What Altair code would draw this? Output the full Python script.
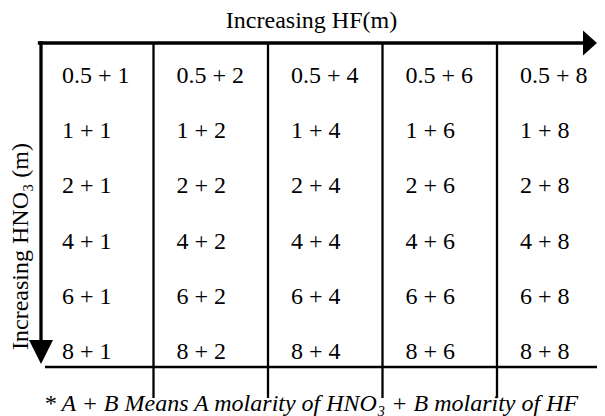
import altair as alt
import pandas as pd

# ---- values ----
hno3 = ["0.5", "1", "2", "4", "6", "8"]      # rows (HNO3 molarity)
hf = ["1", "2", "4", "6", "8"]               # columns (HF molarity)
header = "Increasing HF(m)"
side_label = "Increasing HNO\u2083 (m)"
footnote = "* A + B Means A molarity of HNO\u2083 + B molarity of HF"

FONT = "Liberation Serif"

cells = pd.DataFrame(
    [{"hno3": a, "hf": b, "label": f"{a} + {b}"} for a in hno3 for b in hf]
)
dividers = pd.DataFrame({"hf": hf[1:]})
ends = pd.DataFrame(
    {"first_hf": [hf[0]], "last_hf": [hf[-1]], "first_row": [hno3[0]], "last_row": [hno3[-1]]}
)

W, H = 589, 408
xscale = alt.Scale(type="band", domain=hf, range=[31, 603.5], paddingInner=0, paddingOuter=0)
yscale = alt.Scale(type="band", domain=hno3, range=[40.4, 371.6], paddingInner=0, paddingOuter=0)

title_common = dict(
    labels=False, ticks=False, domain=False, grid=False,
    titleFont=FONT, titleFontSize=24, titleFontWeight="normal", titleColor="black",
)

text = alt.Chart(cells).mark_text(
    align="left", baseline="middle", dx=23, font=FONT, fontSize=24, color="black"
).encode(
    x=alt.X("hf:N", scale=xscale, bandPosition=0,
            axis=alt.Axis(orient="top", title=header, titleX=303, titleY=19,
                          titleAlign="center", titleBaseline="alphabetic", titleAngle=0,
                          **title_common)),
    y=alt.Y("hno3:N", scale=yscale, bandPosition=0.5,
            axis=alt.Axis(orient="left", title=side_label, titleX=19, titleY=238,
                          titleAlign="center", titleBaseline="alphabetic", titleAngle=270,
                          **title_common)),
    text="label:N",
)

div = alt.Chart(dividers).mark_rule(color="black", strokeWidth=2.3, yOffset=-5.4, y2Offset=18.4).encode(
    x=alt.X("hf:N", bandPosition=0,
            axis=alt.Axis(orient="bottom", title=footnote, titleX=302.5, titleY=-6,
                          titleAlign="center", titleBaseline="alphabetic", titleAngle=0,
                          titleFontStyle="italic", **title_common)),
    y=alt.Y("first_row:N", bandPosition=0, axis=None),
    y2=alt.Y2("last_row:N", bandPosition=1),
).transform_calculate(first_row=f"'{hno3[0]}'", last_row=f"'{hno3[-1]}'")

top_line = alt.Chart(ends).mark_rule(
    color="black", strokeWidth=3.3, strokeCap="square", xOffset=0.5, x2Offset=93, yOffset=-5.4
).encode(
    x=alt.X("first_hf:N", bandPosition=0, axis=None),
    x2=alt.X2("last_hf:N", bandPosition=0),
    y=alt.Y("first_row:N", bandPosition=0, axis=None),
)

left_line = alt.Chart(ends).mark_rule(
    color="black", strokeWidth=3.3, strokeCap="square", xOffset=2, yOffset=-5.4
).encode(
    x=alt.X("first_hf:N", bandPosition=0, axis=None),
    y=alt.Y("first_row:N", bandPosition=0, axis=None),
    y2=alt.Y2("last_row:N", bandPosition=0.5),
)

bottom_line = alt.Chart(ends).mark_rule(
    color="black", strokeWidth=2.7, xOffset=6, x2Offset=100, yOffset=-12.6
).encode(
    x=alt.X("first_hf:N", bandPosition=0, axis=None),
    x2=alt.X2("last_hf:N", bandPosition=0),
    y=alt.Y("last_row:N", bandPosition=1, axis=None),
)

right_head = alt.Chart(ends).mark_point(
    shape="M-0.56,-1L0.56,0L-0.56,1Z", filled=True, size=625, color="black",
    opacity=1, strokeWidth=0, xOffset=93, yOffset=-5.4
).encode(
    x=alt.X("last_hf:N", bandPosition=0, axis=None),
    y=alt.Y("first_row:N", bandPosition=0, axis=None),
)

down_head = alt.Chart(ends).mark_point(
    shape="M-1,-1L1,-1L0,1Z", filled=True, size=576, color="black",
    opacity=1, strokeWidth=0, xOffset=2
).encode(
    x=alt.X("first_hf:N", bandPosition=0, axis=None),
    y=alt.Y("last_row:N", bandPosition=0.5, axis=None),
)

chart = (
    alt.layer(text, div, top_line, left_line, bottom_line, right_head, down_head)
    .resolve_axis(x="independent", y="independent")
    .properties(width=W, height=H, autosize=alt.AutoSizeParams(type="none"), padding=0,
                background="white")
    .configure_view(stroke=None)
)

chart.save("out.html", embed_options={"renderer": "svg", "actions": False})
